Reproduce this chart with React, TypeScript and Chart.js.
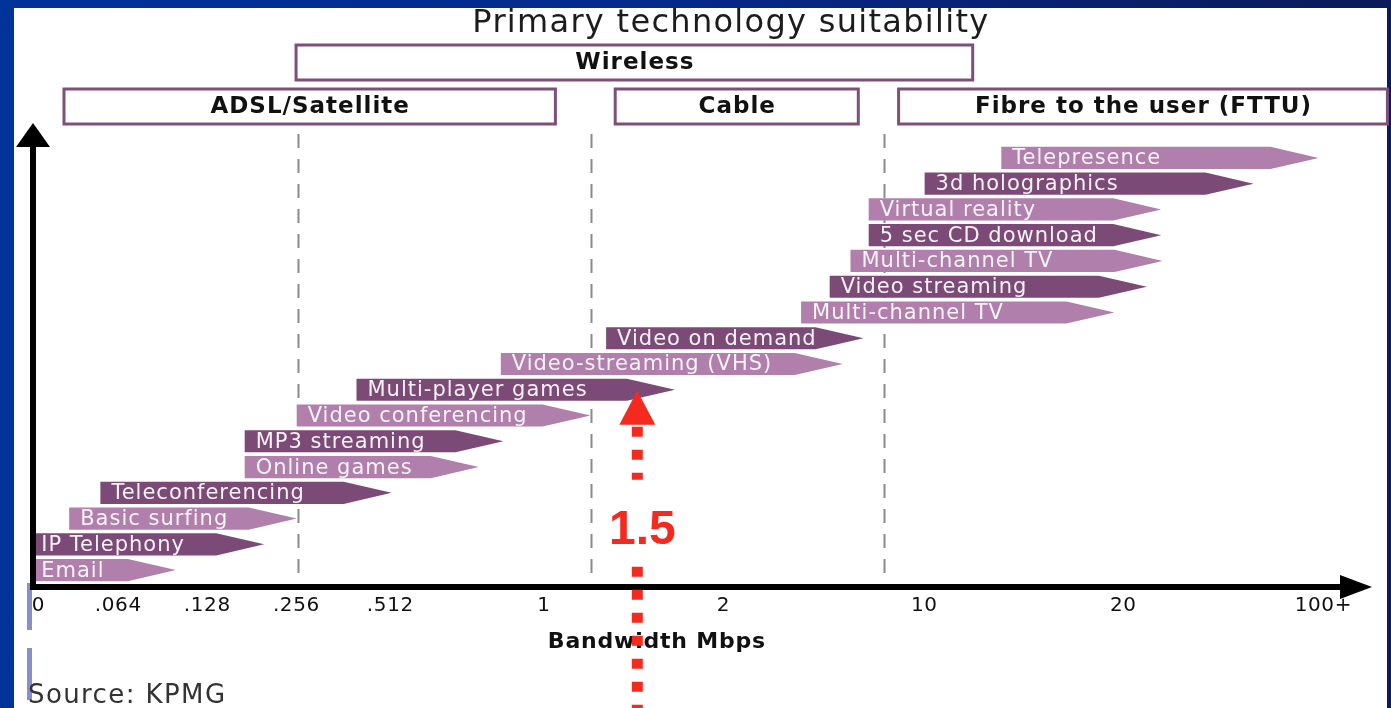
import React, { useEffect, useRef } from "react";
import { Chart, registerables } from "chart.js";

Chart.register(...registerables);

// ---------- data (x values are in the chart's own axis units) ----------
const activities = [
  "Telepresence",
  "3d holographics",
  "Virtual reality",
  "5 sec CD download",
  "Multi-channel TV",
  "Video streaming",
  "Multi-channel TV",
  "Video on demand",
  "Video-streaming (VHS)",
  "Multi-player games",
  "Video conferencing",
  "MP3 streaming",
  "Online games",
  "Teleconferencing",
  "Basic surfing",
  "IP Telephony",
  "Email",
];
const rangeStart = [74.1, 68.2, 63.9, 63.9, 62.5, 60.9, 58.7, 43.7, 35.6, 24.5, 19.9, 15.9, 15.9, 4.8, 2.4, -0.6, -0.6];
const rangeEnd = [98.5, 93.5, 86.4, 86.4, 86.5, 85.3, 82.8, 63.5, 61.9, 49.0, 42.5, 35.8, 33.9, 27.2, 19.9, 17.4, 10.6];

const tickLabels = ["0", ".064", ".128", ".256", ".512", "1", "2", "10", "20", "100+"];
const tickValues = [0, 6.15, 13, 19.85, 27.08, 38.9, 52.7, 68.15, 83.46, 98.85];

const dividerValues = [20, 42.54, 65.08];

const techNames = ["Wireless", "ADSL/Satellite", "Cable", "Fibre to the user (FTTU)"];
const techFrom = [19.85, 2.0, 44.4, 66.2];
const techTo = [71.9, 39.8, 63.1, 103.8];
const techTier = [0, 1, 1, 1];

const markerValue = 46.1;
const markerLabel = "1.5";
const markerTarget = "Multi-player games";

const titleText = "Primary technology suitability";
const axisTitle = "Bandwidth Mbps";
const sourceText = "Source: KPMG";

// ---------- styles ----------
const LIGHT = "#b07fab";
const DARK = "#7c4a76";
const BOX = "#7d5079";
const RED = "#f52a1e";

function txt(
  ctx: CanvasRenderingContext2D,
  s: string,
  x: number,
  y: number,
  font: string,
  color: string,
  align: CanvasTextAlign,
  spacing: number
) {
  ctx.save();
  ctx.font = font;
  ctx.fillStyle = color;
  ctx.textAlign = align;
  ctx.textBaseline = "middle";
  (ctx as any).letterSpacing = spacing + "px";
  const dx = align === "center" ? spacing / 2 : 0;
  ctx.fillText(s, x + dx, y);
  ctx.restore();
}

const decorPlugin = {
  id: "decor",
  beforeDraw(chart: any) {
    const ctx: CanvasRenderingContext2D = chart.ctx;
    const W = chart.width;
    const H = chart.height;
    ctx.save();
    const g = ctx.createLinearGradient(0, 0, W, 0);
    g.addColorStop(0, "#003399");
    g.addColorStop(0.5, "#06288a");
    g.addColorStop(1, "#0b1a58");
    ctx.fillStyle = g;
    ctx.fillRect(0, 0, W, H);
    ctx.fillStyle = "#ffffff";
    ctx.fillRect(14, 8, W - 18, H - 8);
    // slide bullet marks
    ctx.fillStyle = "#8890cc";
    ctx.fillRect(27, 583, 5, 47);
    ctx.fillRect(27, 648, 5, 52);
    ctx.restore();

    // title
    txt(ctx, titleText, W * 0.525, 24, "32px 'DejaVu Sans'", "#1c1c1c", "center", 1.3);

    // technology boxes
    const xS = chart.scales.x;
    const ca = chart.chartArea;
    techNames.forEach((name, i) => {
      const l = xS.getPixelForValue(techFrom[i]);
      const r = xS.getPixelForValue(techTo[i]);
      const top = techTier[i] === 0 ? ca.top - 100 : ca.top - 56;
      const h = 35;
      ctx.save();
      ctx.strokeStyle = BOX;
      ctx.lineWidth = 3;
      ctx.fillStyle = "#ffffff";
      ctx.fillRect(l, top, r - l, h);
      ctx.strokeRect(l, top, r - l, h);
      ctx.restore();
      txt(ctx, name, (l + r) / 2, top + h / 2 + 1, "bold 23px 'DejaVu Sans'", "#111111", "center", 1);
    });
  },
  beforeDatasetsDraw(chart: any) {
    const ctx: CanvasRenderingContext2D = chart.ctx;
    const xS = chart.scales.x;
    const ca = chart.chartArea;
    ctx.save();
    ctx.strokeStyle = "#8a8a8a";
    ctx.lineWidth = 2;
    ctx.setLineDash([14, 11]);
    dividerValues.forEach((v) => {
      const x = Math.round(xS.getPixelForValue(v)) + 0.5;
      ctx.beginPath();
      ctx.moveTo(x, ca.top - 11);
      ctx.lineTo(x, ca.bottom + 2);
      ctx.stroke();
    });
    ctx.restore();
  },
  afterDatasetsDraw(chart: any) {
    const ctx: CanvasRenderingContext2D = chart.ctx;
    const xS = chart.scales.x;
    const yS = chart.scales.y;
    const ca = chart.chartArea;
    const meta = chart.getDatasetMeta(0);

    // arrow-shaped bars
    meta.data.forEach((el: any, i: number) => {
      const p = el.getProps(["x", "base", "y", "height"], true);
      const left = Math.min(p.x, p.base);
      const right = Math.max(p.x, p.base);
      const h = p.height;
      const head = Math.min(48, right - left);
      ctx.save();
      ctx.fillStyle = i % 2 === 0 ? LIGHT : DARK;
      ctx.beginPath();
      ctx.moveTo(left, p.y - h / 2);
      ctx.lineTo(right - head, p.y - h / 2);
      ctx.lineTo(right, p.y);
      ctx.lineTo(right - head, p.y + h / 2);
      ctx.lineTo(left, p.y + h / 2);
      ctx.closePath();
      ctx.fill();
      ctx.restore();
      txt(ctx, activities[i], left + 11, p.y + 1, "21px 'DejaVu Sans'", "#f8f3f7", "left", 1);
    });

    // axes with arrowheads
    const ax = ca.left + 8;
    const ay = ca.bottom + 4;
    ctx.save();
    ctx.fillStyle = "#000000";
    ctx.fillRect(ax - 3, ca.top - 6, 6, ay - ca.top + 9);
    ctx.beginPath();
    ctx.moveTo(ax, ca.top - 22);
    ctx.lineTo(ax - 17, ca.top + 2);
    ctx.lineTo(ax + 17, ca.top + 2);
    ctx.closePath();
    ctx.fill();
    ctx.fillRect(ax - 3, ay - 3, ca.right + 10 - ax, 6);
    ctx.beginPath();
    ctx.moveTo(ca.right + 34, ay);
    ctx.lineTo(ca.right + 2, ay - 12);
    ctx.lineTo(ca.right + 2, ay + 12);
    ctx.closePath();
    ctx.fill();
    ctx.restore();

    // tick labels from the scale's ticks
    xS.ticks.forEach((t: any) => {
      const idx = tickValues.indexOf(t.value);
      if (idx < 0) return;
      txt(ctx, tickLabels[idx], xS.getPixelForValue(t.value), ay + 19, "20px 'DejaVu Sans'", "#111111", "center", 0.6);
    });
    txt(ctx, axisTitle, (ca.left + ca.right) / 2 - 25, ay + 55, "bold 22px 'DejaVu Sans'", "#111111", "center", 0.8);
    txt(ctx, sourceText, 28, 696, "26px 'DejaVu Sans'", "#333333", "left", 1.4);

    // red marker
    const mx = xS.getPixelForValue(markerValue);
    const tipY = yS.getPixelForValue(activities.indexOf(markerTarget)) + 1;
    const baseY = tipY + 34;
    ctx.save();
    ctx.fillStyle = RED;
    ctx.beginPath();
    ctx.moveTo(mx, tipY);
    ctx.lineTo(mx - 18, baseY);
    ctx.lineTo(mx + 18, baseY);
    ctx.closePath();
    ctx.fill();
    ctx.strokeStyle = RED;
    ctx.lineWidth = 11;
    ctx.setLineDash([10, 13]);
    ctx.beginPath();
    ctx.moveTo(mx, baseY + 2);
    ctx.lineTo(mx, baseY + 55);
    ctx.stroke();
    ctx.beginPath();
    ctx.moveTo(mx, baseY + 142);
    ctx.lineTo(mx, chart.height + 5);
    ctx.stroke();
    ctx.restore();
    txt(ctx, markerLabel, mx + 5, baseY + 106, "bold 48px 'Liberation Sans'", RED, "center", 0);
  },
};

export default function App() {
  const ref = useRef<HTMLCanvasElement | null>(null);
  useEffect(() => {
    if (!ref.current) return;
    const chart = new Chart(ref.current, {
      type: "bar",
      data: {
        labels: activities,
        datasets: [
          {
            data: activities.map((_, i) => [rangeStart[i], rangeEnd[i]]) as any,
            backgroundColor: "rgba(0,0,0,0)",
            borderWidth: 0,
            barPercentage: 0.86,
            categoryPercentage: 1,
          },
        ],
      },
      options: {
        indexAxis: "y",
        responsive: false,
        animation: false,
        events: [],
        layout: { padding: { left: 25, right: 53, top: 145, bottom: 125 } },
        plugins: { legend: { display: false }, tooltip: { enabled: false }, title: { display: false } },
        scales: {
          x: {
            type: "linear",
            min: -1,
            max: 100,
            display: false,
            afterBuildTicks: (scale: any) => {
              scale.ticks = tickValues.map((v) => ({ value: v }));
            },
          },
          y: { type: "category", display: false },
        },
      },
      plugins: [decorPlugin],
    });
    return () => chart.destroy();
  }, []);
  return (
    <div style={{ position: "absolute", left: 0, top: 0, width: 1391, height: 708, overflow: "hidden" }}>
      <canvas ref={ref} width={1391} height={708} style={{ display: "block" }} />
    </div>
  );
}
